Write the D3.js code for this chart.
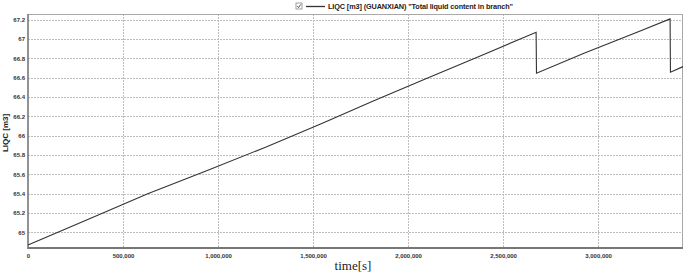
<!DOCTYPE html>
<html>
<head>
<meta charset="utf-8">
<script src="https://cdn.jsdelivr.net/npm/d3@7"></script>
<style>
body { margin: 0; background: #fff; }
.grid line { stroke: #bdbdbd; stroke-dasharray: 1.5,1.5; shape-rendering: crispEdges; }
.tick-label { font-family: Arial, "Liberation Sans", sans-serif; font-size: 6px; font-weight: bold; fill: #333; }
</style>
</head>
<body>
<svg width="685" height="274"></svg>
<script>
var svg = d3.select('svg'),
	width = +svg.attr('width'), height = +svg.attr('height');

//Time in seconds and liquid content in m3.
var times = [0, 330000, 630000, 940000, 1250000, 1540000, 1820000, 2100000, 2383000,
	2674000, 2676000, 2926000, 3225000, 3379000, 3381000, 3447000];
var liqc = [64.869, 65.145, 65.400, 65.637, 65.880, 66.120, 66.360, 66.592, 66.826,
	67.068, 66.644, 66.851, 67.085, 67.206, 66.655, 66.713];
var xTicks = [0, 500000, 1000000, 1500000, 2000000, 2500000, 3000000];
var yTicks = [65, 65.2, 65.4, 65.6, 65.8, 66, 66.2, 66.4, 66.6, 66.8, 67, 67.2];
var legendText = 'LIQC [m3] (GUANXIAN) "Total liquid content in branch"';

var theData = times.map(function(t, i) { return {t: t, v: liqc[i]}; });

var margin = {top: 14, right: 2, bottom: 26, left: 28};
var widthInner = width - margin.left - margin.right,
	heightInner = height - margin.top - margin.bottom;

var inner = svg.append('g')
	.attr('transform', 'translate(' + margin.left + ',' + margin.top + ')');

var xScale = d3.scaleLinear().domain([0, 3447000]).range([0, widthInner]);
var yScale = d3.scaleLinear().domain([64.838, 67.257]).range([heightInner, 0]);

//Dotted grid.
var grid = inner.append('g').attr('class', 'grid');
grid.selectAll('.gx').data(xTicks.slice(1)).enter().append('line')
	.attr('x1', function(d) { return Math.round(xScale(d)) + 0.5; })
	.attr('x2', function(d) { return Math.round(xScale(d)) + 0.5; })
	.attr('y1', 0).attr('y2', heightInner);
grid.selectAll('.gy').data(yTicks).enter().append('line')
	.attr('x1', 0).attr('x2', widthInner)
	.attr('y1', function(d) { return Math.round(yScale(d)) + 0.5; })
	.attr('y2', function(d) { return Math.round(yScale(d)) + 0.5; });

//Frame: light top and right, darker left and bottom.
inner.append('line').attr('x1', 0).attr('x2', widthInner).attr('y1', 0.5).attr('y2', 0.5)
	.style('stroke', '#a8a8a8');
inner.append('line').attr('x1', widthInner - 0.5).attr('x2', widthInner - 0.5).attr('y1', 0).attr('y2', heightInner)
	.style('stroke', '#a8a8a8');
inner.append('line').attr('x1', 0).attr('x2', 0).attr('y1', 0).attr('y2', heightInner + 1)
	.style('stroke', '#777').style('stroke-width', 1.6);
inner.append('line').attr('x1', 0).attr('x2', widthInner).attr('y1', heightInner).attr('y2', heightInner)
	.style('stroke', '#777').style('stroke-width', 2);

//The series.
var line = d3.line()
	.x(function(d) { return xScale(d.t); })
	.y(function(d) { return yScale(d.v); });
inner.append('path')
	.datum(theData)
	.attr('d', line)
	.style('fill', 'none')
	.style('stroke', '#333')
	.style('stroke-width', 1.1);

//Axes, drawn as labels only.
var xAxis = inner.append('g')
	.attr('transform', 'translate(0,' + heightInner + ')')
	.call(d3.axisBottom(xScale).tickValues(xTicks).tickSize(0).tickPadding(6)
		.tickFormat(d3.format(',')));
xAxis.select('.domain').remove();
xAxis.selectAll('text').attr('class', 'tick-label');

var yAxis = inner.append('g')
	.call(d3.axisLeft(yScale).tickValues(yTicks).tickSize(0).tickPadding(3)
		.tickFormat(function(d) { return d3.format('~g')(d); }));
yAxis.select('.domain').remove();
yAxis.selectAll('text').attr('class', 'tick-label');

//Axis titles.
svg.append('text')
	.text('LIQC [m3]')
	.attr('transform', 'translate(8,133) rotate(-90)')
	.attr('text-anchor', 'middle')
	.style('font-family', 'Arial, "Liberation Sans", sans-serif')
	.style('font-size', '8px').style('font-weight', 'bold').style('fill', '#222');
svg.append('text')
	.text('time[s]')
	.attr('x', 353).attr('y', 270)
	.attr('text-anchor', 'middle')
	.style('font-family', '"Liberation Serif", "Times New Roman", serif')
	.style('font-size', '13px').style('fill', '#222');

//Legend at top.
var legend = svg.append('g').attr('transform', 'translate(296,6)');
legend.append('rect').attr('x', 0).attr('y', -3).attr('width', 6).attr('height', 6)
	.style('fill', '#fff').style('stroke', '#888').style('stroke-width', 0.8);
legend.append('path').attr('d', 'M1.2,0 L2.6,1.6 L4.8,-1.6')
	.style('fill', 'none').style('stroke', '#444').style('stroke-width', 0.9);
legend.append('line').attr('x1', 10).attr('x2', 29).attr('y1', 0.5).attr('y2', 0.5)
	.style('stroke', '#333').style('stroke-width', 1.3);
legend.append('text')
	.text(legendText)
	.attr('x', 32).attr('y', 2.8)
	.attr('textLength', 185)
	.style('font-family', 'Arial, "Liberation Sans", sans-serif')
	.style('font-size', '7.3px').style('font-weight', 'bold').style('fill', '#222');
</script>
</body>
</html>
